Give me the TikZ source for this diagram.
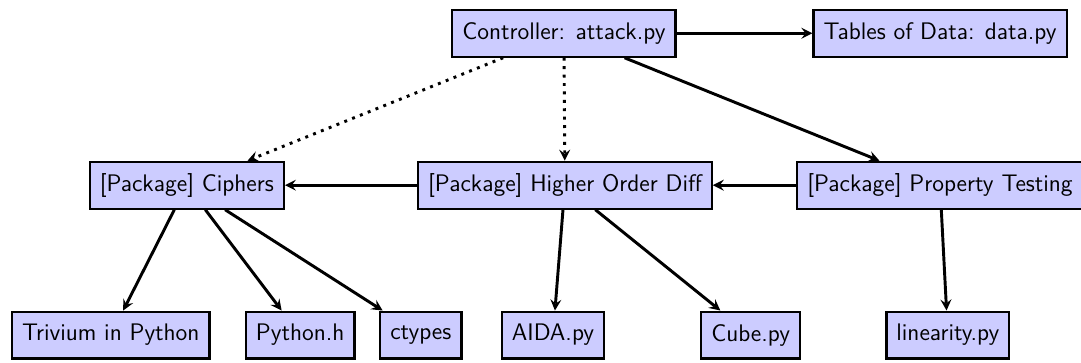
\documentclass[tikz,border=0pt]{standalone}
\usepackage{tikz}
\usetikzlibrary{arrows}

\begin{document}
\begin{tikzpicture}
  [every node/.style={rectangle,draw,very thick,fill=blue!20,
     font=\sffamily\fontsize{13.1}{15}\selectfont,
     inner xsep=5.5pt,minimum height=9mm},
   dep/.style={->,>=stealth,line width=1.6pt},
   opt/.style={->,>=stealth,line width=1.6pt,dash pattern=on 1.6pt off 3pt}]
  \useasboundingbox (0,0) rectangle (20.78,6.96);
  \node (ctrl) at (10.84,6.32) {Controller: attack.py};
  \node (data) at (18.07,6.32) {Tables of Data: data.py};

  \node (ciph) at (3.59,3.40)  {[Package] Ciphers};
  \node (hod)  at (10.86,3.40) {[Package] Higher Order Diff};
  \node (prop) at (18.07,3.40) {[Package] Property Testing};

  \node (triv) at (2.13,0.52)  {Trivium in Python};
  \node (pyh)  at (5.77,0.52)  {Python.h};
  \node (ctyp) at (8.09,0.52)  {ctypes};
  \node (aida) at (10.63,0.52) {AIDA.py};
  \node (cube) at (14.43,0.52) {Cube.py};
  \node (lin)  at (18.22,0.52) {linearity.py};

  \draw[dep] (ctrl) -- (data);
  \draw[opt] (ctrl) -- (ciph);
  \draw[opt] (ctrl) -- (hod);
  \draw[dep] (ctrl) -- (prop);
  \draw[dep] (prop) -- (hod);
  \draw[dep] (hod) -- (ciph);

  \foreach \from/\to in {ciph/triv,ciph/pyh,ciph/ctyp,hod/aida,hod/cube,prop/lin}
    \draw[dep] (\from) -- (\to);

\end{tikzpicture}
\end{document}
